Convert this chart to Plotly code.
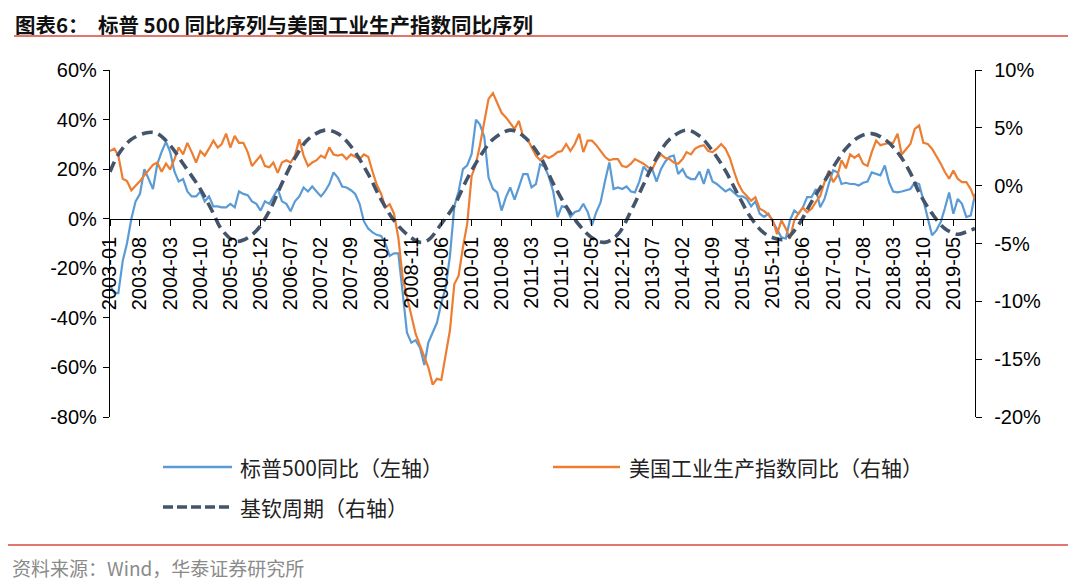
import pandas as pd
import plotly.graph_objects as go

# ---------------- data ----------------
months = pd.date_range("2003-01-01", "2019-10-01", freq="MS")

sp500_yoy = [
    -27, -30, -30, -17, -10, 0, 7, 10, 20, 16,
    12, 22, 27, 31, 27, 19, 15, 16, 11, 9,
    9, 11, 7, 9, 5, 5, 4.6, 4.6, 6, 4.6,
    11, 10, 9.5, 7, 6, 3.3, 7, 6, 9, 12,
    7, 6, 3, 7, 9, 12.6, 11, 13, 11, 9,
    11, 14, 18.7, 16.5, 13, 12.6, 11.5, 10, 6, -1,
    -4, -5.5, -6.5, -7, -10, -15, -14, -14, -30, -46,
    -50, -49, -52, -59, -50, -46, -42, -34, -28, -15,
    5, 11, 20, 21.5, 26, 40, 38, 33, 16.6, 12,
    10.6, 3.3, 8.7, 12.6, 7.7, 12.6, 18, 18, 12.6, 14,
    22, 21, 17, 11, 0.7, 5, 4.6, 0.7, 2.7, 3.3,
    6, 2.7, -2.7, 2.7, 6.6, 15, 22.7, 12, 12.6, 12,
    13, 11, 10.6, 15, 21, 19, 20, 15, 20, 23,
    25, 25.5, 18, 20, 17, 16, 16, 19, 14, 20,
    15, 14, 12.6, 11, 12, 10.6, 9, 9, 8, 5,
    7, 2, 0.7, 2, -1.3, -4, -7.5, -8, -0.7, 3.3,
    2, 4.6, 8.7, 8.7, 12, 4.6, 8, 14, 19.5, 18.7,
    14, 14.5, 14, 14, 13.4, 14.5, 15, 18.7, 18, 17.5,
    21.5, 14.6, 11, 10.6, 11, 11.5, 12, 14.6, 14, 7.4,
    0.7, -6.7, -4.7, -1.3, 4, 10.6, 2, 8, 6, 0.7,
    1.3, 10,
]

ip_yoy = [
    3.0, 3.2, 2.6, 0.6, 0.4, -0.4, 0, 0.4, 0.9, 1.3,
    1.8, 2.0, 1.2, 1.9, 1.4, 2.3, 3.3, 2.7, 3.7, 2.9,
    2.0, 3.0, 2.6, 3.2, 3.9, 3.3, 3.6, 4.5, 3.3, 4.3,
    3.7, 3.7, 2.9, 1.7, 2.2, 2.6, 1.7, 1.6, 2.0, 1.1,
    2.0, 2.2, 2.0, 2.6, 4.0, 2.6, 1.7, 2.0, 2.2, 2.6,
    2.4, 3.3, 2.7, 2.6, 2.7, 2.3, 2.7, 2.5, 2.3, 2.7,
    2.5, 1.2, 0.1, -0.7, -1.9, -1.6, -2.4, -4.5, -8.0, -9.6,
    -11.2, -12.8, -13.8, -14.8, -15.7, -17.2, -16.7, -16.8, -14.8, -12.5,
    -8.5, -7.8, -5.3, -3.3, 0.8, 1.9, 3.5, 5.5, 7.5, 8.0,
    7.1, 6.3, 5.9, 5.4, 4.9, 5.6, 4.2, 4.0, 3.3, 2.6,
    2.2, 2.6, 2.4, 2.6, 2.9, 3.0, 3.6, 3.0, 3.6, 4.5,
    2.9, 3.9, 3.9, 3.5, 3.0, 2.5, 2.2, 2.3, 2.3, 1.7,
    1.6, 1.9, 2.3, 2.1, 1.9, 1.6, 1.4, 2.2, 2.7, 2.4,
    2.3, 2.0, 1.9, 2.3, 2.9, 2.7, 3.2, 3.4, 3.5, 3.0,
    2.9, 3.2, 3.6, 3.2, 2.4, 1.2, 0.2, -0.5, -0.9, -1.3,
    -1.0, -2.0, -2.2, -2.5, -3.0, -4.2, -3.0, -3.7, -4.6, -3.0,
    -2.4, -1.9, -2.3, -2.0, -1.4, -0.9, 0.3, 1.3, 0.3, 0.9,
    2.2, 1.5, 2.7, 2.4, 2.7, 1.9, 1.7, 2.9, 3.9, 3.5,
    3.6, 3.7, 3.7, 4.5, 2.7, 3.2, 3.6, 4.9, 5.2, 3.7,
    3.6, 3.2, 2.6, 1.9, 1.2, 0.6, 1.3, 0.6, 0.3, 0.3,
    -0.3, -1.2,
]

kitchin_dates = [
    "2003-01", "2003-03", "2003-06", "2003-10", "2003-12", "2004-03", "2004-06",
    "2004-10", "2005-01", "2005-03", "2005-06", "2005-08", "2005-11", "2006-02",
    "2006-05", "2006-08", "2006-11", "2007-03", "2007-06", "2007-09", "2008-01",
    "2008-04", "2008-07", "2008-10", "2009-01", "2009-03", "2009-06", "2009-09",
    "2009-12", "2010-03", "2010-06", "2010-10", "2011-01", "2011-05", "2011-08",
    "2011-11", "2012-02", "2012-05", "2012-08", "2012-11", "2013-02", "2013-05",
    "2013-08", "2013-11", "2014-03", "2014-06", "2014-09", "2014-12", "2015-03",
    "2015-06", "2015-09", "2015-12", "2016-02", "2016-05", "2016-08", "2016-11",
    "2017-01", "2017-04", "2017-07", "2017-10", "2018-01", "2018-04", "2018-07",
    "2018-09", "2018-12", "2019-03", "2019-06", "2019-08", "2019-10",
]
kitchin_vals = [
    1.2, 2.7, 4.0, 4.6, 4.5, 3.5, 1.9,
    -0.3, -2.4, -3.8, -4.8, -4.7, -3.9, -2.2,
    0.2, 2.4, 4.0, 4.8, 4.5, 3.4, 1.0,
    -1.2, -3.0, -4.2, -4.9, -4.7, -3.3, -1.7,
    0.6, 2.5, 4.0, 4.8, 4.3, 2.5, 0.2,
    -1.8, -3.4, -4.5, -4.9, -4.2, -2.2, 0.1,
    2.4, 4.0, 4.8, 4.3, 3.0, 1.3, -0.8,
    -2.8, -4.1, -4.6, -4.6, -3.4, -1.4, 0.4,
    1.6, 3.2, 4.2, 4.5, 4.0, 2.9, 1.1,
    -0.6, -2.4, -3.7, -4.2, -4.0, -3.7,
]

tick_labels = [
    "2003-01", "2003-08", "2004-03", "2004-10", "2005-05", "2005-12", "2006-07",
    "2007-02", "2007-09", "2008-04", "2008-11", "2009-06", "2010-01", "2010-08",
    "2011-03", "2011-10", "2012-05", "2012-12", "2013-07", "2014-02", "2014-09",
    "2015-04", "2015-11", "2016-06", "2017-01", "2017-08", "2018-03", "2018-10",
    "2019-05",
]
left_ticks = [60, 40, 20, 0, -20, -40, -60, -80]
left_labels = ["60%", "40%", "20%", "0%", "-20%", "-40%", "-60%", "-80%"]
right_ticks = [10, 5, 0, -5, -10, -15, -20]
right_labels = ["10%", "5%", "0%", "-5%", "-10%", "-15%", "-20%"]

names = ["标普500同比（左轴）", "美国工业生产指数同比（右轴）", "基钦周期（右轴）"]
colors = ["#5B9BD5", "#ED7D31", "#44546A"]

# ---------------- figure ----------------
OFF = 8  # default page body margin
W, H = 1080 - OFF, 584 - OFF
ML, MT = 110 - OFF, 70 - OFF
MR = W - (975 - OFF)
MB = H - (417 - OFF)
PW, PH = W - ML - MR, H - MT - MB


def px(xp):
    return (xp - OFF - ML) / PW


def py(yp):
    return (H - MB - (yp - OFF)) / PH


FONT = "Liberation Sans, Arial, Noto Sans CJK SC, sans-serif"
CJK = "Noto Sans CJK SC, Liberation Sans, sans-serif"

fig = go.Figure()
fig.add_trace(go.Scatter(x=months, y=sp500_yoy, mode="lines", name=names[0],
                         line=dict(color=colors[0], width=2.2), yaxis="y"))
fig.add_trace(go.Scatter(x=months, y=ip_yoy, mode="lines", name=names[1],
                         line=dict(color=colors[1], width=2.2), yaxis="y2"))
fig.add_trace(go.Scatter(x=pd.to_datetime(kitchin_dates), y=kitchin_vals, mode="lines",
                         name=names[2], yaxis="y2",
                         line=dict(color=colors[2], width=3.6, dash="11px,6px",
                                   shape="spline", smoothing=1.0)))

zero_frac = (0 - (-80)) / (60 - (-80))
axis_common = dict(showgrid=False, zeroline=False, showline=True, linecolor="#000",
                   linewidth=1.3, ticks="outside", ticklen=6, tickcolor="#000",
                   tickwidth=1.2, tickfont=dict(size=20, family=FONT, color="#000"))

fig.update_layout(
    width=W, height=H,
    margin=dict(l=ML, r=MR, t=MT, b=MB),
    paper_bgcolor="white", plot_bgcolor="white",
    showlegend=False,
    font=dict(family=FONT, color="#000000"),
    xaxis=dict(
        type="date",
        range=[months[0], months[-1]],
        tickvals=pd.to_datetime([t + "-01" for t in tick_labels]),
        ticktext=tick_labels,
        tickangle=-90,
        anchor="free", position=zero_frac,
        ticklabelstandoff=3,
        **axis_common,
    ),
    yaxis=dict(
        range=[-80, 60], tickvals=left_ticks, ticktext=left_labels,
        ticklabelstandoff=2,
        **axis_common,
    ),
    yaxis2=dict(
        range=[-20, 10], tickvals=right_ticks, ticktext=right_labels,
        overlaying="y", side="right",
        ticklabelstandoff=8,
        **axis_common,
    ),
)

shapes = []
annotations = []

# title and rules
annotations.append(dict(
    text="<b>图表6：  标普 500 同比序列与美国工业生产指数同比序列</b>",
    xref="paper", yref="paper", x=px(14), y=py(8), xanchor="left", yanchor="top",
    borderpad=0,
    showarrow=False, font=dict(size=20.5, family=CJK, color="#111")))
shapes.append(dict(type="line", xref="paper", yref="paper", x0=px(14), x1=px(1068),
                   y0=py(36), y1=py(36), line=dict(color="#D9483B", width=1.5)))
shapes.append(dict(type="line", xref="paper", yref="paper", x0=px(8), x1=px(1068),
                   y0=py(545), y1=py(545), line=dict(color="#D9483B", width=1.5)))
annotations.append(dict(
    text="资料来源：Wind，华泰证券研究所",
    xref="paper", yref="paper", x=px(10), y=py(567), xanchor="left", yanchor="middle",
    showarrow=False, font=dict(size=19, family=CJK, color="#8a8a8a")))

# legend
legend_items = [
    (163, 232, 467, 238, dict(color=colors[0], width=2.5)),
    (553, 620, 467, 627, dict(color=colors[1], width=2.5)),
    (163, 232, 507, 238, dict(color=colors[2], width=3.6, dash="10px,4px")),
]
for (x0, x1, yy, tx, ln), nm in zip(legend_items, names):
    shapes.append(dict(type="line", xref="paper", yref="paper", x0=px(x0), x1=px(x1),
                       y0=py(yy), y1=py(yy), line=ln))
    annotations.append(dict(text=nm, xref="paper", yref="paper", x=px(tx), y=py(yy),
                            xanchor="left", yanchor="middle", showarrow=False,
                            font=dict(size=21, family=CJK, color="#222")))

fig.update_layout(shapes=shapes, annotations=annotations)

fig.write_html("out.html")
